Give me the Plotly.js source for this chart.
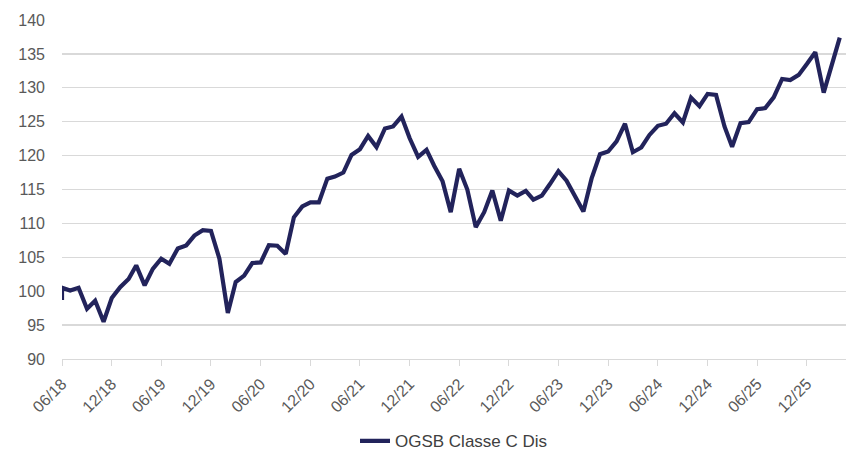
<!DOCTYPE html>
<html>
<head>
<meta charset="utf-8">
<script src="https://cdn.plot.ly/plotly-3.0.1.min.js"></script>
<style>
  html, body { margin: 0; padding: 0; background: #ffffff; }
  #chart { width: 846px; height: 454px; }
</style>
</head>
<body>
<div id="chart"></div>
<script>
// ---- Data ----
const seriesName = 'OGSB Classe C Dis';
const startYear = 2018;
const startMonth = 6; // first monthly observation: 06/18
const openingValue = 98.7; // first print, same month as first monthly value
const monthlyValues = [
  100.5, 100.1, 100.5, 97.4, 98.6, 95.5, 99.0, 100.6, 101.8, 103.8,
  100.85, 103.3, 104.8, 104.05, 106.3, 106.75, 108.2, 109.0, 108.9, 104.8,
  96.8, 101.35, 102.3, 104.15, 104.25, 106.8, 106.7, 105.5, 110.9, 112.5,
  113.1, 113.1, 116.6, 116.9, 117.5, 120.1, 120.95, 122.9, 121.25, 124.0,
  124.3, 125.75, 122.55, 119.8, 120.85, 118.5, 116.2, 111.65, 118.05, 115.0,
  109.45, 111.65, 114.85, 110.4, 114.85, 114.1, 114.8, 113.5, 114.1, 115.8,
  117.7, 116.3, 114.1, 111.75, 116.6, 120.2, 120.6, 122.1, 124.7, 120.5,
  121.2, 123.05, 124.4, 124.7, 126.25, 124.9, 128.55, 127.3, 129.1, 128.95,
  124.3, 121.3, 124.8, 124.95, 126.85, 127.0, 128.6, 131.3, 131.15, 131.9,
  133.5, 135.25, 129.3, 133.4, 137.4
];
const tickLabels = ['06/18','12/18','06/19','12/19','06/20','12/20','06/21','12/21',
  '06/22','12/22','06/23','12/23','06/24','12/24','06/25','12/25'];
const yTicks = [90, 95, 100, 105, 110, 115, 120, 125, 130, 135, 140];

// ---- Build dates ----
function monthDate(i) {
  const total = (startMonth - 1) + i;
  const y = startYear + Math.floor(total / 12);
  const m = (total % 12) + 1;
  return y + '-' + String(m).padStart(2, '0') + '-01';
}
const xDates = [monthDate(0)].concat(monthlyValues.map((v, i) => monthDate(i)));
const yVals = [openingValue].concat(monthlyValues);
const tickVals = tickLabels.map(l => '20' + l.slice(3) + '-' + l.slice(0, 2) + '-01');

const trace = {
  x: xDates,
  y: yVals,
  type: 'scatter',
  mode: 'lines',
  name: seriesName,
  line: { color: '#22235B', width: 4.2 },
  showlegend: true
};

const fontFam = '"Liberation Sans", Arial, sans-serif';
const layout = {
  width: 846,
  height: 454,
  margin: { l: 62, r: 0, t: 20, b: 94.7 },
  paper_bgcolor: '#ffffff',
  plot_bgcolor: '#ffffff',
  font: { family: fontFam, size: 16, color: '#595959' },
  xaxis: {
    type: 'date',
    range: ['2018-06-01', '2026-04-24'],
    tickvals: tickVals,
    ticktext: tickLabels,
    tickangle: -45,
    ticks: 'outside',
    ticklen: 6,
    tickcolor: '#D9D9D9',
    showline: true,
    linecolor: '#D9D9D9',
    linewidth: 1.3,
    showgrid: false,
    zeroline: false,
    ticklabelstandoff: 2,
    tickfont: { family: fontFam, size: 16, color: '#595959' },
    fixedrange: true,
    automargin: false
  },
  yaxis: {
    range: [90, 140],
    tickvals: yTicks,
    ticks: '',
    showgrid: true,
    gridcolor: '#D9D9D9',
    gridwidth: 1.3,
    zeroline: false,
    showline: false,
    ticklabelstandoff: 16,
    tickfont: { family: fontFam, size: 16, color: '#595959' },
    fixedrange: true,
    automargin: false
  },
  legend: {
    orientation: 'h',
    x: 0.5,
    xanchor: 'center',
    xref: 'paper',
    y: 0.028,
    yref: 'container',
    yanchor: 'middle',
    font: { family: fontFam, size: 17, color: '#404040' },
    bgcolor: 'rgba(0,0,0,0)'
  },
  showlegend: true
};

Plotly.newPlot('chart', [trace], layout, { displayModeBar: false, staticPlot: true });
</script>
</body>
</html>
